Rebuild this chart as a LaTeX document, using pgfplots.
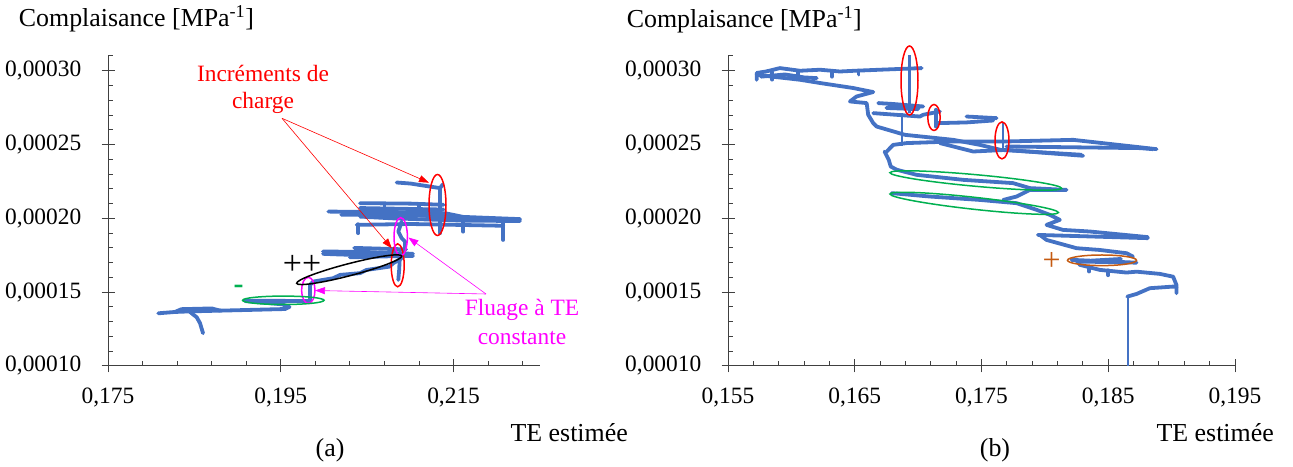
\documentclass[border=0pt]{standalone}
\usepackage{fontspec}
\setmainfont{Liberation Serif}
\usepackage{pgfplots}
\pgfplotsset{compat=1.18}
\usetikzlibrary{arrows.meta,shapes.geometric}
\definecolor{cblue}{HTML}{4472C4}
\definecolor{cgreen}{HTML}{00B050}
\definecolor{corange}{HTML}{C55A11}
\definecolor{cmag}{HTML}{FF00FF}
\definecolor{cred}{HTML}{FF0000}
\definecolor{axgray}{HTML}{404040}
\newcommand{\tfont}{\fontsize{23.5}{28}\selectfont}
\newcommand{\lfont}{\fontsize{26}{30}\selectfont}
\tikzset{ell/.style={draw, ellipse, inner sep=0pt, line width=1.5bp}}
\pgfplotsset{
 myaxis/.style={
  scale only axis, height=310bp,
  axis x line*=bottom, axis y line*=left,
  axis line style={axgray, line width=1bp},
  ymin=0.0001, ymax=0.00031,
  ytick={0.0001,0.00015,0.0002,0.00025,0.0003},
  yticklabels={{0,00010},{0,00015},{0,00020},{0,00025},{0,00030}},
  minor ytick={0.00011,0.00012,0.00013,0.00014,0.00016,0.00017,0.00018,0.00019,0.00021,0.00022,0.00023,0.00024,0.00026,0.00027,0.00028,0.00029,0.00031},
  tick align=center,
  major tick length=13bp, minor tick length=5bp,
  tick style={axgray, line width=1bp},
  minor x tick style={yshift=2.5bp}, minor y tick style={xshift=2.5bp},
  xticklabel style={anchor=north, inner sep=0pt, yshift=-15bp, font=\tfont},
  yticklabel style={anchor=east, inner sep=0pt, xshift=-20bp, font=\tfont},
  scaled ticks=false,
 },
 bl/.style={cblue, line width=3.8bp, line join=round, line cap=round, no markers},
 blt/.style={cblue, line width=1.8bp, no markers},
}
\begin{document}
\begin{tikzpicture}
\useasboundingbox (0,0) rectangle (1293bp,467bp);
% ---------------- (a) ----------------
\begin{axis}[myaxis, at={(108bp,101bp)}, anchor=south west, width=432bp,
  xmin=0.175, xmax=0.225,
  xtick={0.175,0.195,0.215}, xticklabels={{0,175},{0,195},{0,215}},
  minor xtick={0.179,0.183,0.187,0.191,0.199,0.203,0.207,0.211,0.219,0.223}]
\addplot[bl] coordinates {(0.18082,0.0001357) (0.18275,0.0001366) (0.18449,0.0001370) (0.18800,0.0001375) (0.19144,0.0001380) (0.19549,0.0001386) (0.19600,0.0001400) (0.19514,0.0001418) (0.19086,0.0001440) (0.19259,0.0001442) (0.19838,0.0001440) (0.19838,0.0001549) (0.19876,0.0001572) (0.20108,0.0001595) (0.20185,0.0001617) (0.20417,0.0001629) (0.20494,0.0001651) (0.20756,0.0001673) (0.20802,0.0001696) (0.20899,0.0001730)};
\addplot[bl] coordinates {(0.18275,0.0001366) (0.18350,0.0001385) (0.18700,0.0001390) (0.18800,0.0001375)};
\addplot[bl] coordinates {(0.18449,0.0001366) (0.18527,0.0001330) (0.18565,0.0001290) (0.18600,0.0001222)};
\addplot[bl] coordinates {(0.20880,0.0001770) (0.20870,0.0001650) (0.20860,0.0001583)};
\addplot[bl] coordinates {(0.19988,0.0001776) (0.20500,0.0001772) (0.21030,0.0001760)};
\addplot[bl] coordinates {(0.21030,0.0001745) (0.20200,0.0001755) (0.19988,0.0001760)};
\addplot[bl] coordinates {(0.20350,0.0001800) (0.20950,0.0001790)};
\addplot[bl] coordinates {(0.20300,0.0001736) (0.20880,0.0001745)};
\addplot[bl] coordinates {(0.20899,0.0001978) (0.20860,0.0001911) (0.20899,0.0001866) (0.20938,0.0001843) (0.20938,0.0001798) (0.20918,0.0001765)};
\addplot[bl] coordinates {(0.20841,0.0002243) (0.21000,0.0002236) (0.21343,0.0002205) (0.21375,0.0002230)};
\addplot[bl] coordinates {(0.21343,0.0002205) (0.21343,0.0001900)};
\addplot[bl] coordinates {(0.20417,0.0002103) (0.21000,0.0002100) (0.21384,0.0002092)};
\addplot[bl] coordinates {(0.20050,0.0002046) (0.20800,0.0002043) (0.21400,0.0002035) (0.21612,0.0002010) (0.22269,0.0001995)};
\addplot[bl] coordinates {(0.22269,0.0001982) (0.21612,0.0001985) (0.20800,0.0002000) (0.20417,0.0002012)};
\addplot[bl] coordinates {(0.20200,0.0002025) (0.21000,0.0002022) (0.21800,0.0002000)};
\addplot[bl] coordinates {(0.20417,0.0002070) (0.21384,0.0002060)};
\addplot[bl] coordinates {(0.20378,0.0001956) (0.21000,0.0001962) (0.22075,0.0001950)};
\addplot[bl] coordinates {(0.20397,0.0001960) (0.20397,0.0001900)};
\addplot[bl] coordinates {(0.21612,0.0001980) (0.21612,0.0001910)};
\addplot[bl] coordinates {(0.22075,0.0001990) (0.22075,0.0001854)};
\addplot[bl] coordinates {(0.20700,0.0002090) (0.20700,0.0002040)};
\addplot[bl] coordinates {(0.21100,0.0002090) (0.21100,0.0002040)};
\end{axis}
% ---------------- (b) ----------------
\begin{axis}[myaxis, at={(728bp,101bp)}, anchor=south west, width=507bp,
  xmin=0.155, xmax=0.195,
  xtick={0.155,0.165,0.175,0.185,0.195}, xticklabels={{0,155},{0,165},{0,175},{0,185},{0,195}},
  minor xtick={0.157,0.159,0.161,0.163,0.167,0.169,0.171,0.173,0.177,0.179,0.181,0.183,0.187,0.189,0.191,0.193}]
\addplot[blt] coordinates {(0.18654,0.0001470) (0.18654,0.0000900)};
\addplot[blt] coordinates {(0.16872,0.0002713) (0.16872,0.0002487)};
\addplot[bl] coordinates {(0.15726,0.0002939) (0.15726,0.0002985) (0.15800,0.0002995) (0.15910,0.0003018) (0.16068,0.0003000) (0.16226,0.0003007) (0.16383,0.0002995) (0.16500,0.0003000) (0.16699,0.0003007) (0.17028,0.0003018)};
\addplot[bl] coordinates {(0.15850,0.0002990) (0.15850,0.0002940)};
\addplot[bl] coordinates {(0.16050,0.0002990) (0.16050,0.0002945)};
\addplot[bl] coordinates {(0.16320,0.0002995) (0.16320,0.0002960)};
\addplot[bl] coordinates {(0.16530,0.0003000) (0.16530,0.0002975)};
\addplot[bl] coordinates {(0.15760,0.0002960) (0.15950,0.0002975) (0.16100,0.0002955) (0.16200,0.0002950)};
\addplot[bl] coordinates {(0.15726,0.0002973) (0.15850,0.0002960) (0.16068,0.0002939) (0.16226,0.0002917) (0.16488,0.0002883) (0.16620,0.0002860) (0.16646,0.0002856) (0.16515,0.0002826) (0.16462,0.0002792) (0.16594,0.0002781) (0.16606,0.0002702) (0.16646,0.0002645) (0.16673,0.0002622) (0.16896,0.0002566) (0.17277,0.0002532) (0.17487,0.0002498) (0.17651,0.0002464) (0.18076,0.0002442) (0.18288,0.0002431)};
\addplot[bl] coordinates {(0.16685,0.0002781) (0.16800,0.0002775) (0.17040,0.0002758) (0.16750,0.0002748) (0.17000,0.0002740)};
\addplot[bl] coordinates {(0.16646,0.0002713) (0.17014,0.0002690) (0.17040,0.0002702) (0.17172,0.0002724)};
\addplot[bl] coordinates {(0.17140,0.0002736) (0.17140,0.0002622)};
\addplot[bl] coordinates {(0.17146,0.0002645) (0.17382,0.0002650) (0.17592,0.0002663)};
\addplot[bl] coordinates {(0.17382,0.0002690) (0.17619,0.0002679)};
\addplot[cblue, line width=2.6bp] coordinates {(0.16930,0.0002713) (0.16930,0.0003120)};
\addplot[bl] coordinates {(0.16752,0.0002453) (0.16804,0.0002498) (0.16909,0.0002510) (0.17277,0.0002521) (0.17698,0.0002521) (0.18223,0.0002532) (0.18881,0.0002469)};
\addplot[bl] coordinates {(0.17172,0.0002510) (0.17434,0.0002453) (0.17698,0.0002464) (0.18302,0.0002424)};
\addplot[bl] coordinates {(0.17698,0.0002487) (0.18749,0.0002476) (0.18852,0.0002469)};
\addplot[cblue, line width=2.6bp] coordinates {(0.17671,0.0002645) (0.17671,0.0002453)};
\addplot[bl] coordinates {(0.16735,0.0002453) (0.16768,0.0002397) (0.16784,0.0002351) (0.16833,0.0002329) (0.16988,0.0002295) (0.17356,0.0002261) (0.17748,0.0002239) (0.17882,0.0002205) (0.18171,0.0002193) (0.17882,0.0002193) (0.17777,0.0002148) (0.17671,0.0002125)};
\addplot[bl] coordinates {(0.16791,0.0002171) (0.17093,0.0002148) (0.17487,0.0002125) (0.17777,0.0002103) (0.17934,0.0002058) (0.18039,0.0002024) (0.18118,0.0001990) (0.18013,0.0001956) (0.18142,0.0001922) (0.18355,0.0001911) (0.18812,0.0001873)};
\addplot[bl] coordinates {(0.17945,0.0001888) (0.18812,0.0001866)};
\addplot[bl] coordinates {(0.17960,0.0001888) (0.18013,0.0001854) (0.18250,0.0001798) (0.18434,0.0001786) (0.18644,0.0001764) (0.18696,0.0001741)};
\addplot[bl] coordinates {(0.18210,0.0001719) (0.18723,0.0001700) (0.18250,0.0001708) (0.18600,0.0001725)};
\addplot[bl] coordinates {(0.18250,0.0001719) (0.18276,0.0001685) (0.18434,0.0001651) (0.18644,0.0001633) (0.18723,0.0001639) (0.18907,0.0001624) (0.19012,0.0001605) (0.19038,0.0001549) (0.19038,0.0001493)};
\addplot[bl] coordinates {(0.18350,0.0001670) (0.18350,0.0001640)};
\addplot[bl] coordinates {(0.18500,0.0001648) (0.18500,0.0001615)};
\addplot[bl] coordinates {(0.18650,0.0001470) (0.18723,0.0001488) (0.18828,0.0001527) (0.19012,0.0001538) (0.19038,0.0001535)};
\end{axis}
% ---------------- annotations (pixel frame, y downwards) ----------------
\begin{scope}[shift={(0bp,467bp)}, x=1bp, y=-1bp]
\node[anchor=base west, font=\lfont, inner sep=0pt] at (18.7,27) {Complaisance [MPa\textsuperscript{-1}]};
\node[anchor=base east, font=\lfont, inner sep=0pt] at (862,28) {Complaisance [MPa\textsuperscript{-1}]};
\node[anchor=base east, font=\lfont, inner sep=0pt] at (628,442) {TE estimée};
\node[anchor=base east, font=\lfont, inner sep=0pt] at (1274,442) {TE estimée};
\node[anchor=base, font=\lfont, inner sep=0pt] at (330,457) {(a)};
\node[anchor=base, font=\lfont, inner sep=0pt] at (995,457) {(b)};
% (a) annotations
\node[anchor=base, font=\tfont, text=cred, inner sep=0pt] at (263,82) {Incréments de};
\node[anchor=base, font=\tfont, text=cred, inner sep=0pt] at (263,109) {charge};
\draw[cred, line width=0.6bp, -{Triangle[length=10bp,width=7bp]}] (282,118.3) -- (429,182.7);
\draw[cred, line width=0.6bp, -{Triangle[length=10bp,width=7bp]}] (282,118.3) -- (391.8,248.3);
\node[ell, cred, minimum width=17bp, minimum height=61bp] at (437.5,205) {};
\node[ell, cred, minimum width=13bp, minimum height=43bp] at (397.7,265.3) {};
\node[ell, cmag, minimum width=13.4bp, minimum height=38.4bp] at (400.7,236.8) {};
\node[ell, cmag, minimum width=13.4bp, minimum height=26bp] at (308.3,290.3) {};
\draw[cmag, line width=0.6bp, -{Triangle[length=10bp,width=7bp]}] (486,294) -- (408.4,237.5);
\draw[cmag, line width=0.6bp, -{Triangle[length=10bp,width=7bp]}] (486,294) -- (315,290.5);
\node[anchor=base, font=\tfont, text=cmag, inner sep=0pt] at (522,316) {Fluage à TE};
\node[anchor=base, font=\tfont, text=cmag, inner sep=0pt] at (522,345) {constante};
\node[ell, black, minimum width=108.5bp, minimum height=12bp, rotate=14.6] at (349.2,269.7) {};
\node[ell, cgreen, minimum width=81.4bp, minimum height=8.4bp] at (283.3,300.3) {};
\node[font=\fontsize{34}{40}\selectfont, inner sep=0pt] at (302,265) {++};
\node[font=\fontsize{30}{36}\selectfont\bfseries, text=cgreen, inner sep=0pt] at (238.5,289) {-};
% (b) annotations
\node[ell, cred, minimum width=17bp, minimum height=69bp] at (909.5,80.5) {};
\node[ell, cred, minimum width=12.4bp, minimum height=26bp] at (934,117.5) {};
\node[ell, cred, minimum width=14bp, minimum height=37bp] at (1002,140.4) {};
\node[ell, cgreen, minimum width=172.4bp, minimum height=11.6bp, rotate=-5.2] at (975.8,180.5) {};
\node[ell, cgreen, minimum width=169.4bp, minimum height=12bp, rotate=-6.3] at (974.2,203.3) {};
\node[ell, corange, minimum width=69bp, minimum height=10.6bp] at (1102,260.3) {};
\node[font=\fontsize{32}{38}\selectfont, text=corange, inner sep=0pt] at (1051.7,261.7) {+};
\end{scope}
\end{tikzpicture}
\end{document}
